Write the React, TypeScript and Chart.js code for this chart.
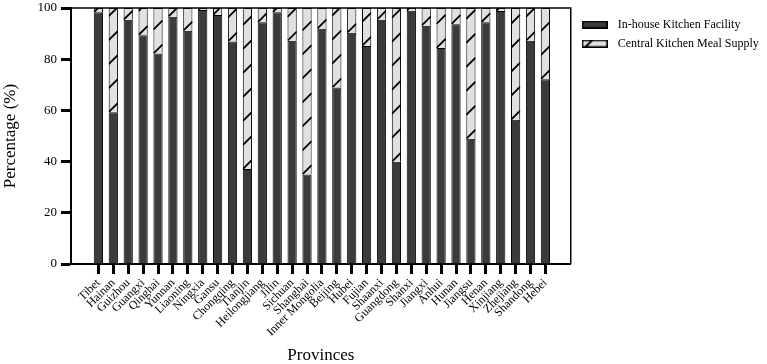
import React, { useEffect, useRef } from 'react';
import { Chart, registerables } from 'chart.js';

Chart.register(...registerables);

const provinces = [
  'Tibet', 'Hainan', 'Guizhou', 'Guangxi', 'Qinghai', 'Yunnan', 'Liaoning', 'Ningxia',
  'Gansu', 'Chongqing', 'Tianjin', 'Heilongjiang', 'Jilin', 'Sichuan', 'Shanghai',
  'Inner Mongolia', 'Beijing', 'Hubei', 'Fujian', 'Shaanxi', 'Guangdong', 'Shanxi',
  'Jiangxi', 'Anhui', 'Hunan', 'Jiangsu', 'Henan', 'Xinjiang', 'Zhejiang', 'Shandong', 'Hebei',
];
const inHouse = [
  98.3, 59.3, 95.4, 89.4, 82.2, 96.6, 91.1, 99.2, 97.3, 86.9, 37.1, 94.4, 98.3, 87.2, 35.0,
  91.9, 68.9, 90.3, 85.2, 95.4, 39.9, 98.9, 93.1, 84.4, 93.7, 48.9, 94.4, 98.8, 56.3, 87.2, 72.2,
];
const centralKitchen = [
  1.7, 40.7, 4.6, 10.6, 17.8, 3.4, 8.9, 0.8, 2.7, 13.1, 62.9, 5.6, 1.7, 12.8, 65.0,
  8.1, 31.1, 9.7, 14.8, 4.6, 60.1, 1.1, 6.9, 15.6, 6.3, 51.1, 5.6, 1.2, 43.7, 12.8, 27.8,
];
const yTicks = [0, 20, 40, 60, 80, 100];
const seriesNames = ['In-house Kitchen Facility', 'Central Kitchen Meal Supply'];

const FONT = "'Liberation Serif', 'Times New Roman', serif";
const DARK = '#3b3b3b';
const LIGHT = '#e0e0e0';

function makeSwatch(fill: string, hatch: boolean) {
  const c = document.createElement('canvas');
  c.width = 26;
  c.height = 8;
  const g = c.getContext('2d')!;
  g.fillStyle = fill;
  g.fillRect(0, 0, 26, 8);
  g.strokeStyle = '#000';
  g.lineWidth = 1.5;
  g.strokeRect(0.75, 0.75, 24.5, 6.5);
  if (hatch) {
    g.lineWidth = 2;
    g.beginPath();
    g.moveTo(3, 8);
    g.lineTo(11, 0);
    g.stroke();
  }
  return c;
}

const hatchPlugin = {
  id: 'hatch',
  afterDatasetsDraw(chart: any) {
    const meta = chart.getDatasetMeta(1);
    const ctx = chart.ctx;
    meta.data.forEach((bar: any) => {
      const { x, y, base, width } = bar.getProps(['x', 'y', 'base', 'width'], true);
      const left = x - width / 2;
      const right = x + width / 2;
      const top = Math.min(y, base);
      const bottom = Math.max(y, base);
      ctx.save();
      ctx.beginPath();
      ctx.rect(left, top, width, bottom - top);
      ctx.clip();
      ctx.strokeStyle = '#000';
      ctx.lineWidth = 1.8;
      for (let yy = bottom; yy > top - width; yy -= 24) {
        ctx.beginPath();
        ctx.moveTo(left, yy);
        ctx.lineTo(right, yy - width);
        ctx.stroke();
      }
      ctx.restore();
    });
  },
};

const framePlugin = {
  id: 'frame',
  afterDatasetsDraw(chart: any) {
    const { left, right, top, bottom } = chart.chartArea;
    const ctx = chart.ctx;
    ctx.save();
    ctx.strokeStyle = '#000';
    ctx.lineWidth = 1.5;
    ctx.beginPath();
    ctx.moveTo(left, top);
    ctx.lineTo(right, top);
    ctx.lineTo(right, bottom);
    ctx.stroke();
    ctx.restore();
  },
};

export default function App() {
  const ref = useRef<HTMLCanvasElement | null>(null);

  useEffect(() => {
    if (!ref.current) return;
    const swDark = makeSwatch(DARK, false);
    const swLight = makeSwatch(LIGHT, true);
    const chart = new Chart(ref.current, {
      type: 'bar',
      data: {
        datasets: [
          {
            label: seriesNames[0],
            data: provinces.map((_, i) => ({ x: i, y: inHouse[i] })),
            backgroundColor: DARK,
            borderColor: '#000',
            borderWidth: 1,
            pointStyle: swDark,
            categoryPercentage: 1,
            barPercentage: 0.62,
          },
          {
            label: seriesNames[1],
            data: provinces.map((_, i) => ({ x: i, y: centralKitchen[i] })),
            backgroundColor: LIGHT,
            borderColor: '#000',
            borderWidth: 1,
            pointStyle: swLight,
            categoryPercentage: 1,
            barPercentage: 0.62,
          },
        ],
      } as any,
      options: {
        animation: false,
        responsive: false,
        maintainAspectRatio: false,
        layout: { padding: { top: 8, left: 0, right: 6, bottom: 0 } },
        plugins: {
          tooltip: { enabled: false },
          legend: {
            position: 'right',
            align: 'start',
            title: { display: true, text: ' ', font: { size: 3 }, padding: 0 },
            labels: {
              usePointStyle: true,
              pointStyleWidth: 34,
              boxHeight: 7,
              padding: 7,
              color: '#000',
              font: { family: FONT, size: 12 },
            },
          },
        },
        scales: {
          x: {
            type: 'linear',
            min: -1.84,
            max: 31.7,
            bounds: 'data',
            stacked: true,
            offset: false,
            afterBuildTicks: (scale: any) => {
              scale.ticks = provinces.map((_, i) => ({ value: i }));
            },
            afterFit: (scale: any) => {
              scale.height = 100;
              scale.paddingLeft = 0;
              scale.paddingRight = 0;
            },
            ticks: {
              autoSkip: false,
              minRotation: 45,
              maxRotation: 45,
              padding: 2,
              color: '#000',
              font: { family: FONT, size: 12 },
              callback: (v: any) => provinces[v] ?? '',
            },
            grid: {
              offset: false,
              drawOnChartArea: false,
              drawTicks: true,
              tickLength: 10,
              tickWidth: 3,
              tickColor: '#000',
            },
            border: { color: '#000', width: 2 },
            title: {
              display: true,
              text: 'Provinces',
              color: '#000',
              font: { family: FONT, size: 17, lineHeight: 1 },
              padding: { top: 0, bottom: 0 },
            },
          },
          y: {
            min: 0,
            max: 100,
            stacked: true,
            afterBuildTicks: (scale: any) => {
              scale.ticks = yTicks.map((v) => ({ value: v }));
            },
            afterFit: (scale: any) => {
              scale.width = 71;
              scale.paddingTop = 0;
              scale.paddingBottom = 0;
            },
            ticks: {
              padding: 4,
              color: '#000',
              font: { family: FONT, size: 13 },
            },
            grid: {
              drawOnChartArea: false,
              drawTicks: true,
              tickLength: 10,
              tickWidth: 3,
              tickColor: '#000',
            },
            border: { color: '#000', width: 2 },
            title: {
              display: true,
              text: 'Percentage (%)',
              color: '#000',
              font: { family: FONT, size: 17 },
              padding: { top: 0, bottom: 0 },
            },
          },
        },
      } as any,
      plugins: [hatchPlugin, framePlugin],
    });
    return () => chart.destroy();
  }, []);

  return (
    <div style={{ position: 'absolute', left: 0, top: 0, width: 767, height: 364, background: '#fff' }}>
      <canvas ref={ref} width={767} height={364} style={{ display: 'block' }} />
    </div>
  );
}
